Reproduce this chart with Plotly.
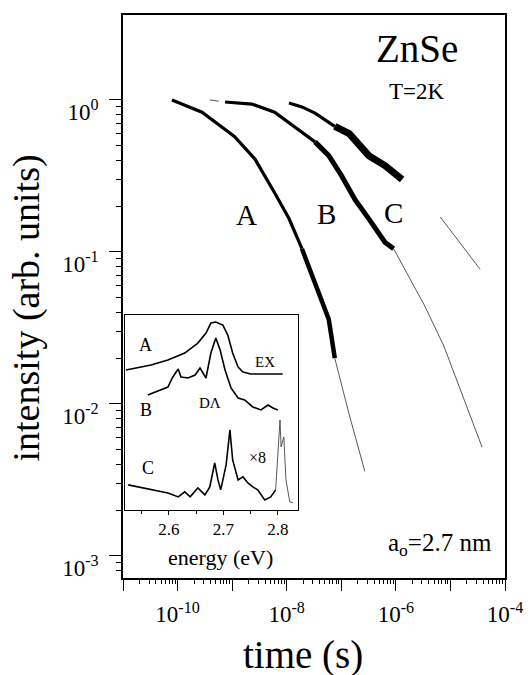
import plotly.graph_objects as go

# ---- main decay curves (time in s, normalized intensity) ----
a_time = [7.9e-11, 2.8e-10, 1.1e-9, 2.6e-9, 6.0e-9, 1.1e-8, 1.9e-8, 3.3e-8, 5.9e-8, 7.6e-8]
a_int = [1.0, 0.83, 0.575, 0.41, 0.245, 0.166, 0.105, 0.063, 0.036, 0.020]
a_fit_time = [7.6e-8, 1.4e-7, 2.7e-7]
a_fit_int = [0.020, 0.0085, 0.0036]

b_lead_time = [3.9e-10, 7.4e-10]
b_lead_int = [1.0, 0.97]
b_time = [7.4e-10, 2.3e-9, 6.0e-9, 1.4e-8, 3.3e-8, 5.9e-8, 1.0e-7, 1.8e-7, 3.2e-7, 6.3e-7, 9.1e-7]
b_int = [0.97, 0.94, 0.83, 0.66, 0.53, 0.43, 0.32, 0.22, 0.165, 0.116, 0.105]
b_fit_time = [9.1e-7, 3.4e-6, 7.6e-6, 3.8e-5]
b_fit_int = [0.105, 0.044, 0.024, 0.0052]

c_time = [1.1e-8, 1.9e-8, 3.3e-8, 7.6e-8, 1.4e-7, 3.2e-7, 6.3e-7, 1.3e-6]
c_int = [0.955, 0.90, 0.82, 0.67, 0.60, 0.43, 0.37, 0.30]
c_fit_time = [6.5e-6, 3.5e-5]
c_fit_int = [0.17, 0.077]

# ---- inset spectra (energy eV, arb. units) ----
spec_a_e = [2.521, 2.567, 2.598, 2.629, 2.653, 2.668, 2.677, 2.686, 2.699, 2.708, 2.717, 2.727, 2.736, 2.750, 2.809]
spec_a_i = [140, 145, 150, 157, 167, 177, 187, 188, 185, 175, 157, 143, 138, 136, 136]

spec_b_e = [2.561, 2.585, 2.598, 2.607, 2.617, 2.622, 2.635, 2.648, 2.657, 2.668, 2.677, 2.686, 2.694,
            2.703, 2.714, 2.727, 2.739, 2.754, 2.769, 2.782, 2.791, 2.800]
spec_b_i = [115, 120, 123, 133, 141, 133, 132, 135, 142, 132, 157, 172, 160,
            140, 122, 112, 110, 103, 100, 105, 102, 100]

spec_c_e = [2.525, 2.543, 2.567, 2.598, 2.617, 2.629, 2.639, 2.653, 2.666, 2.675, 2.684, 2.690, 2.695,
            2.705, 2.712, 2.717, 2.727, 2.736, 2.745, 2.754, 2.763, 2.776, 2.787, 2.796]
spec_c_i = [25, 23, 20, 17, 13, 18, 13, 22, 15, 23, 47, 30, 20,
            45, 80, 50, 30, 33, 27, 23, 20, 10, 13, 20]
spec_c8_e = [2.796, 2.804, 2.806, 2.811, 2.815, 2.822, 2.828]
spec_c8_i = [20, 90, 63, 73, 30, 8, 7]

x_major = [1e-11, 1e-10, 1e-9, 1e-8, 1e-7, 1e-6, 1e-5, 1e-4]
x_major_text = ["", "10<sup>-10</sup>", "", "10<sup>-8</sup>", "", "10<sup>-6</sup>", "", "10<sup>-4</sup>"]
y_major = [1e-3, 1e-2, 1e-1, 1]
y_major_text = ["10<sup>-3</sup>", "10<sup>-2</sup>", "10<sup>-1</sup>", "10<sup>0</sup>"]
inset_ticks = [2.6, 2.7, 2.8]
inset_tick_text = ["2.6", "2.7", "2.8"]

x_minor = [k * 10.0 ** n for n in range(-11, -4) for k in range(2, 10)]
y_minor = [k * 10.0 ** n for n in range(-4, 0) for k in range(2, 10)]

FONT = "Liberation Serif"
XR = [-11, -4]
YR = [-3.145, 0.559]

fig = go.Figure()

def seg(xs, ys, width, color="black", **kw):
    fig.add_trace(go.Scatter(x=xs, y=ys, mode="lines", line=dict(color=color, width=width), **kw))

# curve A
seg(a_time[:7], a_int[:7], 3.2)
seg(a_time[6:], a_int[6:], 4.5)
seg(a_fit_time, a_fit_int, 0.9, "#444")
# curve B
fig.add_trace(go.Scatter(x=b_lead_time, y=b_lead_int, mode="lines",
                         line=dict(color="#555", width=1, dash="dash")))
seg(b_time[:5], b_int[:5], 3.2)
seg(b_time[4:], b_int[4:], 5.0)
seg(b_fit_time, b_fit_int, 0.9, "#444")
# curve C
seg(c_time[:4], c_int[:4], 3.2)
seg(c_time[3:], c_int[3:], 7.0)
seg(c_fit_time, c_fit_int, 0.9, "#444")

# minor tick carrier (empty)
fig.add_trace(go.Scatter(x=[], y=[], xaxis="x3", yaxis="y3", mode="lines"))

# inset
for ex, iy, w, col in [(spec_a_e, spec_a_i, 1.6, "black"), (spec_b_e, spec_b_i, 1.6, "black"),
                       (spec_c_e, spec_c_i, 1.6, "black"), (spec_c8_e, spec_c8_i, 0.9, "#444")]:
    fig.add_trace(go.Scatter(x=ex, y=iy, xaxis="x2", yaxis="y2", mode="lines",
                             line=dict(color=col, width=w)))

fig.update_layout(
    width=532, height=675,
    margin=dict(l=123, r=27, t=15, b=97, autoexpand=False),
    paper_bgcolor="white", plot_bgcolor="white",
    showlegend=False,
    font=dict(family=FONT, color="black"),
    xaxis=dict(type="log", range=XR, tickmode="array", tickvals=x_major, ticktext=x_major_text,
               ticks="outside", ticklen=11, tickwidth=1.2, tickcolor="black", automargin=False,
               showline=True, linecolor="black", linewidth=1.5, mirror=True,
               showgrid=False, zeroline=False, tickfont=dict(size=23, family=FONT),
               ticklabelstandoff=4),
    yaxis=dict(type="log", range=YR, tickmode="array", tickvals=y_major, ticktext=y_major_text,
               ticks="outside", ticklen=12, tickwidth=1.2, tickcolor="black", automargin=False,
               showline=True, linecolor="black", linewidth=1.5, mirror=True,
               showgrid=False, zeroline=False, tickfont=dict(size=23, family=FONT),
               ticklabelstandoff=6, ticklabelshift=12),
    xaxis3=dict(type="log", range=XR, overlaying="x", anchor="y", side="bottom", automargin=False,
                tickmode="array", tickvals=x_minor, ticks="outside", ticklen=5, tickwidth=1,
                tickcolor="black", showticklabels=False, showline=False, showgrid=False, zeroline=False),
    yaxis3=dict(type="log", range=YR, overlaying="y", anchor="x", side="left", automargin=False,
                tickmode="array", tickvals=y_minor, ticks="outside", ticklen=6, tickwidth=1,
                tickcolor="black", showticklabels=False, showline=False, showgrid=False, zeroline=False),
    xaxis2=dict(domain=[0.005, 0.458], anchor="y2", range=[2.519, 2.837], automargin=False,
                tickmode="array", tickvals=inset_ticks, ticktext=inset_tick_text,
                ticks="outside", ticklen=4, tickcolor="black",
                minor=dict(dtick=0.05, ticks="outside", ticklen=3, tickcolor="black"),
                showline=True, linecolor="black", linewidth=1.3, mirror=True,
                showgrid=False, zeroline=False, tickfont=dict(size=17, family=FONT)),
    yaxis2=dict(domain=[0.121, 0.467], anchor="x2", range=[0, 195], automargin=False,
                showticklabels=False, ticks="", showline=True, linecolor="black", linewidth=1.3,
                mirror=True, showgrid=False, zeroline=False),
)

def ann(text, x, y, size, xref="paper", yref="paper", **kw):
    fig.add_annotation(text=text, x=x, y=y, xref=xref, yref=yref, showarrow=False,
                       font=dict(size=size, family=FONT, color="black"),
                       xanchor="center", yanchor="middle", **kw)

ann("ZnSe", 0.770, 0.941, 39)
ann("T=2K", 0.770, 0.865, 23)
ann("A", 0.322, 0.645, 29)
ann("B", 0.534, 0.647, 29)
ann("C", 0.709, 0.648, 29)
ann("a<sub>o</sub>=2.7 nm", 0.830, 0.059, 25)
ann("intensity (arb. units)", -0.252, 0.48, 38, textangle=-90)
ann("time (s)", 0.471, -0.137, 39)
ann("energy (eV)", 0.254, 0.037, 22)

ann("A", 2.556, 165, 18, xref="x2", yref="y2")
ann("EX", 2.776, 148, 15, xref="x2", yref="y2")
ann("B", 2.558, 100, 18, xref="x2", yref="y2")
ann("DΛ", 2.675, 107, 15, xref="x2", yref="y2")
ann("C", 2.561, 42, 18, xref="x2", yref="y2")
ann("×8", 2.763, 52, 16, xref="x2", yref="y2")

fig.write_html("out.html", config={"displayModeBar": False},
               post_script="document.body.style.margin='0';")
